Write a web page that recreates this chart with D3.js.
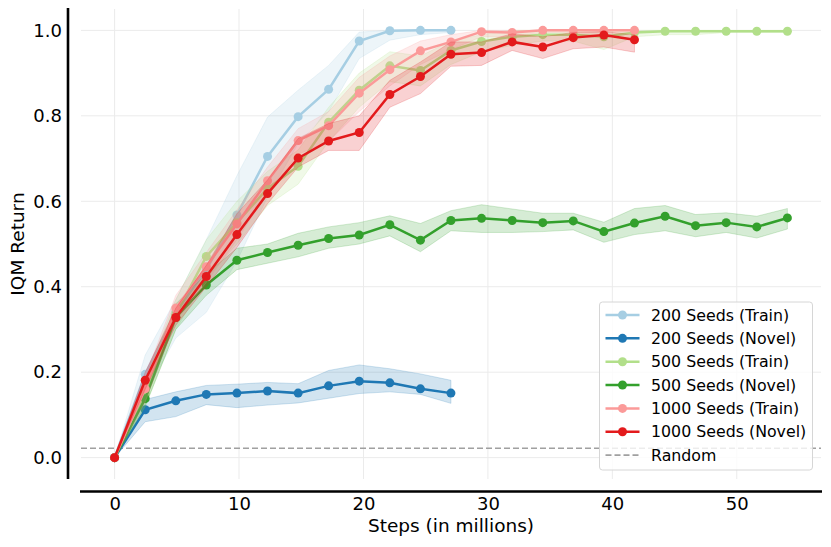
<!DOCTYPE html>
<html>
<head>
<meta charset="utf-8">
<script src="https://cdn.jsdelivr.net/npm/d3@7"></script>
<style>
    body { margin: 0; background: #fff; }
    svg { font-family: "DejaVu Sans", sans-serif; }
</style>
</head>
<body>
<svg id="chart" width="831" height="547"></svg>
<script>
// steps (in millions) at which each run was evaluated
const steps = [0, 2.46, 4.92, 7.37, 9.83, 12.29, 14.75, 17.2, 19.66, 22.12, 24.58, 27.03,
    29.49, 31.95, 34.41, 36.86, 39.32, 41.78, 44.24, 46.69, 49.15, 51.61, 54.07];

// 200 seeds
const train200 = [0, 0.195, 0.34, 0.44, 0.568, 0.705, 0.798, 0.862, 0.975, 0.999, 1.0, 1.0];
const train200Lo = [0, 0.15, 0.28, 0.34, 0.46, 0.61, 0.735, 0.81, 0.934, 0.977, 0.99, 0.995];
const train200Hi = [0, 0.24, 0.37, 0.51, 0.66, 0.797, 0.86, 0.918, 0.996, 1.0, 1.0, 1.0];
const novel200 = [0, 0.112, 0.133, 0.148, 0.151, 0.156, 0.151, 0.168, 0.179, 0.175, 0.161, 0.151];
const novel200Lo = [0, 0.084, 0.096, 0.124, 0.117, 0.123, 0.128, 0.139, 0.150, 0.154, 0.148, 0.127];
const novel200Hi = [0, 0.136, 0.154, 0.169, 0.172, 0.176, 0.173, 0.204, 0.217, 0.208, 0.196, 0.181];

// 500 seeds
const train500 = [0, 0.15, 0.335, 0.471, 0.55, 0.63, 0.682, 0.785, 0.86, 0.917, 0.906, 0.953,
    0.974, 0.985, 0.99, 0.99, 0.985, 0.995, 0.998, 0.998, 0.998, 0.998, 0.998];
const train500Lo = [0, 0.12, 0.30, 0.42, 0.50, 0.59, 0.64, 0.74, 0.82, 0.88, 0.87, 0.92,
    0.95, 0.965, 0.975, 0.975, 0.955, 0.985, 0.99, 0.99, 0.995, 0.995, 0.995];
const train500Hi = [0, 0.18, 0.37, 0.51, 0.60, 0.67, 0.72, 0.82, 0.90, 0.95, 0.94, 0.975,
    0.99, 1.0, 1.0, 1.0, 1.0, 1.0, 1.0, 1.0, 1.0, 1.0, 1.0];
const novel500 = [0, 0.138, 0.328, 0.404, 0.462, 0.48, 0.497, 0.513, 0.521, 0.545, 0.509, 0.555,
    0.56, 0.555, 0.55, 0.554, 0.529, 0.549, 0.565, 0.543, 0.55, 0.54, 0.561];
const novel500Lo = [0, 0.12, 0.30, 0.38, 0.44, 0.455, 0.47, 0.49, 0.50, 0.519, 0.482, 0.531,
    0.527, 0.527, 0.529, 0.533, 0.504, 0.522, 0.531, 0.517, 0.527, 0.514, 0.535];
const novel500Hi = [0, 0.16, 0.36, 0.43, 0.49, 0.50, 0.525, 0.54, 0.55, 0.566, 0.548, 0.578,
    0.592, 0.582, 0.572, 0.572, 0.551, 0.583, 0.59, 0.569, 0.573, 0.565, 0.583];

// 1000 seeds
const train1000 = [0, 0.161, 0.35, 0.447, 0.547, 0.648, 0.742, 0.777, 0.853, 0.908, 0.952, 0.973,
    0.997, 0.995, 1.0, 1.0, 1.0, 1.0];
const train1000Lo = [0, 0.13, 0.32, 0.41, 0.51, 0.62, 0.71, 0.74, 0.81, 0.87, 0.92, 0.955,
    0.985, 0.985, 0.995, 0.995, 0.995, 0.995];
const train1000Hi = [0, 0.19, 0.38, 0.48, 0.58, 0.68, 0.77, 0.81, 0.89, 0.94, 0.975, 0.99,
    1.0, 1.0, 1.0, 1.0, 1.0, 1.0];
const novel1000 = [0, 0.181, 0.328, 0.424, 0.522, 0.618, 0.701, 0.741, 0.761, 0.85, 0.892, 0.944,
    0.948, 0.973, 0.961, 0.983, 0.989, 0.978];
const novel1000Lo = [0, 0.16, 0.31, 0.40, 0.492, 0.594, 0.68, 0.719, 0.719, 0.82, 0.852, 0.916,
    0.918, 0.953, 0.934, 0.957, 0.961, 0.949];
const novel1000Hi = [0, 0.20, 0.35, 0.45, 0.571, 0.65, 0.747, 0.782, 0.80, 0.883, 0.926, 0.973,
    0.973, 0.992, 0.985, 0.995, 0.997, 0.99];

const randomScore = 0.022;

const seriesNames = ["200 Seeds (Train)", "200 Seeds (Novel)", "500 Seeds (Train)",
    "500 Seeds (Novel)", "1000 Seeds (Train)", "1000 Seeds (Novel)"];
const seriesColors = ["#a6cee3", "#1f78b4", "#b2df8a", "#33a02c", "#fb9a99", "#e31a1c"];

const xTicks = [0, 10, 20, 30, 40, 50];
const yTicks = [0.0, 0.2, 0.4, 0.6, 0.8, 1.0];

// put the series together for drawing
const series = [
    [train200, train200Lo, train200Hi],
    [novel200, novel200Lo, novel200Hi],
    [train500, train500Lo, train500Hi],
    [novel500, novel500Lo, novel500Hi],
    [train1000, train1000Lo, train1000Hi],
    [novel1000, novel1000Lo, novel1000Hi]
].map(([mean, lo, hi], k) => ({
    name: seriesNames[k],
    color: seriesColors[k],
    points: mean.map((v, i) => ({ x: steps[i], y: v, lo: lo[i], hi: hi[i] }))
}));

const svg = d3.select("#chart");

// plot area
const plotLeft = 81, plotRight = 821, plotTop = 9, plotBottom = 479;

const xscale = d3.scaleLinear().domain([-2.7, 56.77]).range([plotLeft, plotRight]);
const yscale = d3.scaleLinear().domain([-0.05, 1.05]).range([plotBottom, plotTop]);

// grid lines
const grid = svg.append("g");
grid.selectAll(".vgrid")
    .data(xTicks)
    .enter()
    .append("line")
    .attr("x1", d => xscale(d)).attr("x2", d => xscale(d))
    .attr("y1", plotTop).attr("y2", plotBottom)
    .attr("stroke", "#ebebeb").attr("stroke-width", 1);
grid.selectAll(".hgrid")
    .data(yTicks)
    .enter()
    .append("line")
    .attr("x1", plotLeft).attr("x2", plotRight)
    .attr("y1", d => yscale(d)).attr("y2", d => yscale(d))
    .attr("stroke", "#ebebeb").attr("stroke-width", 1);

// random baseline
svg.append("line")
    .attr("x1", plotLeft).attr("x2", plotRight)
    .attr("y1", yscale(randomScore)).attr("y2", yscale(randomScore))
    .attr("stroke", "#a0a0a0")
    .attr("stroke-width", 1.7)
    .attr("stroke-dasharray", "6,3");

const area = d3.area()
    .x(d => xscale(d.x))
    .y0(d => yscale(d.lo))
    .y1(d => yscale(d.hi));

const line = d3.line()
    .x(d => xscale(d.x))
    .y(d => yscale(d.y));

// each series: band, then line, then markers
series.forEach(s => {
    const g = svg.append("g");
    g.append("path")
        .attr("d", area(s.points))
        .attr("fill", s.color)
        .attr("fill-opacity", 0.2)
        .attr("stroke", s.color)
        .attr("stroke-opacity", 0.2)
        .attr("stroke-width", 1);
    g.append("path")
        .attr("d", line(s.points))
        .attr("fill", "none")
        .attr("stroke", s.color)
        .attr("stroke-width", 2.5);
    g.selectAll("circle")
        .data(s.points)
        .enter()
        .append("circle")
        .attr("cx", d => xscale(d.x))
        .attr("cy", d => yscale(d.y))
        .attr("r", 4.5)
        .attr("fill", s.color);
});

// axes (offset spines, no tick marks)
const xAxis = d3.axisBottom(xscale).tickValues(xTicks).tickSize(0).tickPadding(6);
const xg = svg.append("g")
    .attr("transform", `translate(0, 491.5)`)
    .call(xAxis);
xg.select(".domain")
    .attr("d", `M80,0H822`)
    .attr("stroke", "#000").attr("stroke-width", 2.6);
xg.selectAll("text")
    .attr("font-size", "18px")
    .attr("font-family", "DejaVu Sans")
    .attr("fill", "#000");

const yAxis = d3.axisLeft(yscale).tickValues(yTicks).tickSize(0).tickPadding(6)
    .tickFormat(d3.format(".1f"));
const yg = svg.append("g")
    .attr("transform", `translate(68, 0)`)
    .call(yAxis);
yg.select(".domain")
    .attr("d", `M0,8V479`)
    .attr("stroke", "#000").attr("stroke-width", 2.6);
yg.selectAll("text")
    .attr("font-size", "18px")
    .attr("font-family", "DejaVu Sans")
    .attr("fill", "#000");

// axis labels
svg.append("text")
    .attr("x", (plotLeft + plotRight) / 2)
    .attr("y", 532)
    .attr("text-anchor", "middle")
    .attr("font-size", "18.5px")
    .text("Steps (in millions)");

svg.append("text")
    .attr("transform", `translate(24, ${(plotTop + plotBottom) / 2}) rotate(-90)`)
    .attr("text-anchor", "middle")
    .attr("font-size", "18.5px")
    .text("IQM Return");

// legend
const legend = svg.append("g").attr("transform", "translate(599.5, 302)");
legend.append("rect")
    .attr("width", 213)
    .attr("height", 168)
    .attr("rx", 3)
    .attr("fill", "#fff")
    .attr("fill-opacity", 0.8)
    .attr("stroke", "#d6d6d6")
    .attr("stroke-width", 1);

const legendItems = series.map(s => ({ name: s.name, color: s.color, dashed: false }))
    .concat([{ name: "Random", color: "#a0a0a0", dashed: true }]);

const rows = legend.selectAll(".row")
    .data(legendItems)
    .enter()
    .append("g")
    .attr("transform", (d, i) => `translate(0, ${13 + i * 23.35})`);

rows.append("line")
    .attr("x1", 6).attr("x2", 40)
    .attr("stroke", d => d.color)
    .attr("stroke-width", d => d.dashed ? 1.7 : 2.5)
    .attr("stroke-dasharray", d => d.dashed ? "6,3" : null);

rows.filter(d => !d.dashed)
    .append("circle")
    .attr("cx", 23)
    .attr("r", 4.5)
    .attr("fill", d => d.color);

rows.append("text")
    .attr("x", 51.5)
    .attr("dy", "0.36em")
    .attr("font-size", "15.8px")
    .attr("fill", "#000")
    .text(d => d.name);
</script>
</body>
</html>
